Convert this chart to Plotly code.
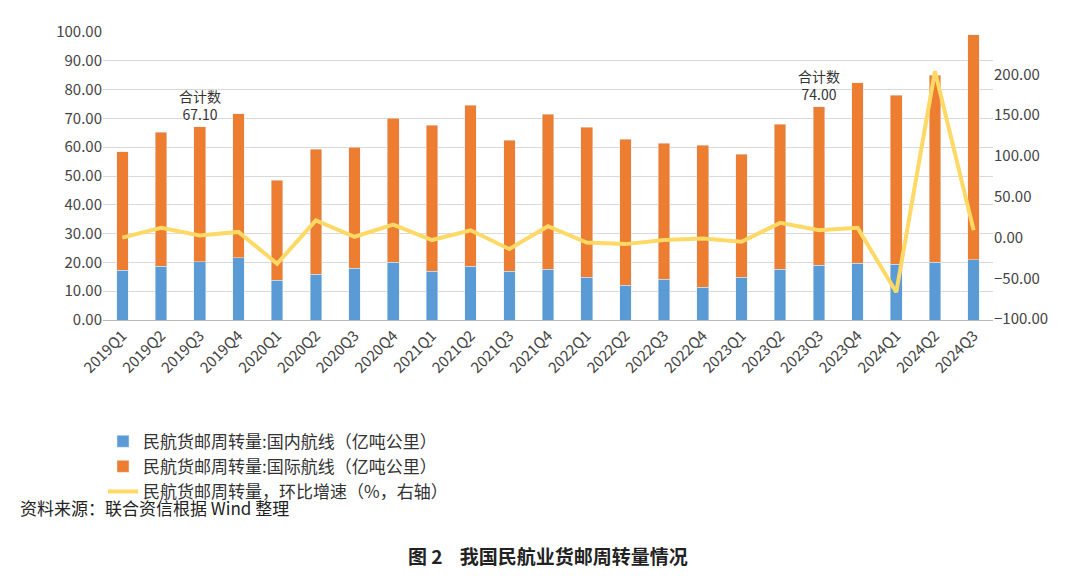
import plotly.graph_objects as go

quarters = ["2019Q1", "2019Q2", "2019Q3", "2019Q4", "2020Q1", "2020Q2", "2020Q3", "2020Q4",
            "2021Q1", "2021Q2", "2021Q3", "2021Q4", "2022Q1", "2022Q2", "2022Q3", "2022Q4",
            "2023Q1", "2023Q2", "2023Q3", "2023Q4", "2024Q1", "2024Q2", "2024Q3"]
totals = [58.4, 65.2, 67.1, 71.7, 48.6, 59.3, 60.0, 70.0, 67.6, 74.5, 62.4, 71.4,
          67.0, 62.8, 61.4, 60.7, 57.6, 68.0, 74.0, 82.4, 78.0, 85.0, 99.0]
domestic = [17.2, 18.6, 20.3, 21.7, 13.8, 15.9, 17.9, 20.0, 16.9, 18.6, 16.9, 17.6,
            14.8, 12.0, 14.1, 11.4, 14.8, 17.6, 19.0, 19.7, 19.3, 20.0, 21.0]
growth = [0, 12, 2.5, 7, -32, 21, 1, 16, -3, 9, -14, 14,
          -6, -8, -3, -1, -5, 18, 9, 12, -67, 204, 9]
international = [round(t - d, 2) for t, d in zip(totals, domestic)]

font = "Noto Sans CJK SC"
fig = go.Figure()
fig.add_trace(go.Bar(x=quarters, y=domestic, name="民航货邮周转量:国内航线（亿吨公里）",
                     marker_color="#5B9BD5", width=0.3))
fig.add_trace(go.Bar(x=quarters, y=international, name="民航货邮周转量:国际航线（亿吨公里）",
                     marker_color="#ED7D31", width=0.3))
fig.add_trace(go.Scatter(x=quarters, y=growth, name="民航货邮周转量，环比增速（%，右轴）",
                         mode="lines", line=dict(color="#FFD966", width=4), yaxis="y2"))

for q, t in [("2019Q3", 67.10), ("2023Q3", 74.00)]:
    fig.add_annotation(x=q, y=t, text="合计数<br>%.2f" % t, showarrow=False,
                       yshift=22, font=dict(size=14, color="#333"))

fig.add_annotation(x=-0.095, y=-0.70, xref="paper", yref="paper", xanchor="left",
                   text="资料来源：联合资信根据 Wind 整理", showarrow=False,
                   font=dict(size=17, color="#222"))
fig.add_annotation(x=0.5, y=-0.87, xref="paper", yref="paper",
                   text="<b>图 2    我国民航业货邮周转量情况</b>", showarrow=False,
                   font=dict(size=19, color="#222"))

fig.update_layout(
    width=1080, height=585, barmode="stack", plot_bgcolor="white", paper_bgcolor="white",
    font=dict(family=font, size=15, color="#444"),
    margin=dict(l=95, r=95, t=22, b=273), bargap=0.5,
    xaxis=dict(tickangle=-45, showline=True, linecolor="#bbb", tickfont=dict(size=15)),
    yaxis=dict(range=[0, 100], dtick=10, tickformat=".2f", gridcolor="#d9d9d9",
               zeroline=False),
    yaxis2=dict(overlaying="y", side="right", range=[-101, 252], tickvals=[-100, -50, 0, 50, 100, 150, 200],
                tickformat=".2f", showgrid=False, zeroline=False),
    legend=dict(orientation="h", x=0.0, y=-0.36, xanchor="left", yanchor="top",
                traceorder="normal", entrywidth=500, font=dict(size=17, color="#333")),
)
fig.write_html("out.html")
